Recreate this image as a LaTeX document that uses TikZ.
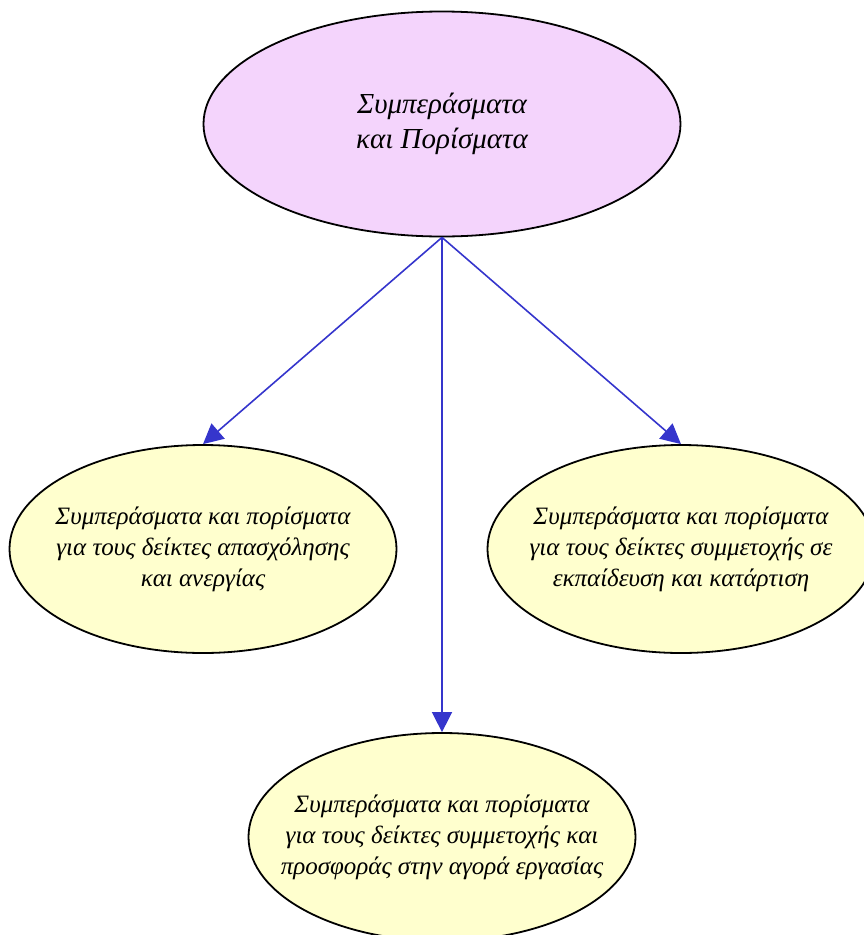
\documentclass[tikz,border=0pt]{standalone}
\usepackage{fontspec}
\setmainfont{Liberation Serif}
\usepackage{tikz}
\usetikzlibrary{shapes.geometric, arrows.meta}
\usepackage{xcolor}
\definecolor{toplilac}{HTML}{F4D4FC}
\definecolor{leafyellow}{HTML}{FFFFCE}
\definecolor{linkblue}{HTML}{3535CC}

\begin{document}
\begin{tikzpicture}[
      x=1pt, y=-1pt,
      topic/.style = {
        ellipse, draw=black, fill=toplilac, line width=1.8pt,
        minimum width=477pt, minimum height=225pt, inner sep=0pt,
        align=center, font=\fontsize{29}{35}\selectfont\itshape
      },
      leaf/.style = {
        ellipse, draw=black, fill=leafyellow, line width=1.8pt,
        minimum width=387pt, minimum height=208pt,
        inner xsep=-30pt, inner ysep=0pt,
        align=center, font=\fontsize{25}{31}\selectfont\itshape
      },
      link/.style = {
        draw=linkblue, line width=1.6pt,
        -{Triangle[length=20pt, width=20pt]}
      }
    ]

    \useasboundingbox (0,0) rectangle (864,935);

    \node[topic] (Concl) at (442,124) {Συμπεράσματα\\και Πορίσματα};

    \node[leaf] (Employ) at (203,549)
      {Συμπεράσματα και πορίσματα\\για τους δείκτες απασχόλησης\\και ανεργίας};
    \node[leaf] (Train)  at (681,549)
      {Συμπεράσματα και πορίσματα\\για τους δείκτες συμμετοχής σε\\εκπαίδευση και κατάρτιση};
    \node[leaf] (Market) at (442,837)
      {Συμπεράσματα και πορίσματα\\για τους δείκτες συμμετοχής και\\προσφοράς στην αγορά εργασίας};

    \draw[link] (Concl.south) -- (Employ.north);
    \draw[link] (Concl.south) -- (Train.north);
    \draw[link] (Concl.south) -- (Market.north);

  \end{tikzpicture}
\end{document}
